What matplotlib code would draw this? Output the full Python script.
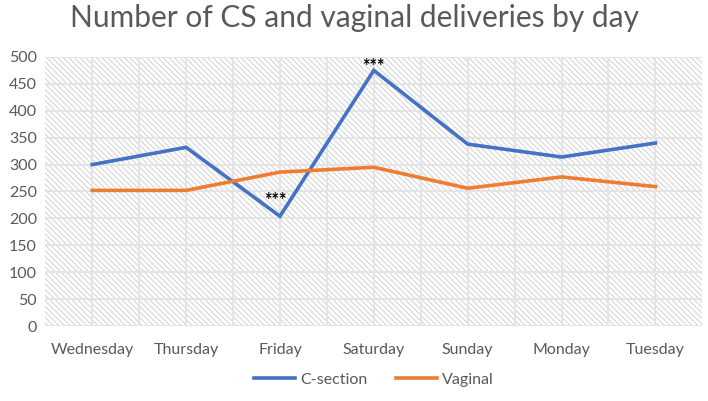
"""Number of CS and vaginal deliveries by day of week."""

import matplotlib

matplotlib.use("Agg")
import matplotlib.pyplot as plt
from matplotlib.patches import Rectangle

days = ["Wednesday", "Thursday", "Friday", "Saturday", "Sunday", "Monday", "Tuesday"]
c_section = [300, 332, 204, 475, 338, 314, 340]
vaginal = [252, 252, 286, 295, 256, 277, 259]

TEXT = "#595959"
GRID = "#e3e3e3"

plt.rcParams["font.family"] = ["Lato", "DejaVu Sans"]
plt.rcParams["hatch.linewidth"] = 0.8
plt.rcParams["hatch.color"] = "#d6d6d6"

fig = plt.figure(figsize=(7.08, 4.01), dpi=100)
ax = fig.add_axes([0.064, 0.187, 0.928, 0.671])

x = list(range(len(days)))
ax.add_patch(Rectangle((0, 0), 1, 1, transform=ax.transAxes, facecolor="white",
                       edgecolor="#d6d6d6", hatch="\\" * 6, linewidth=0, zorder=0))

ax.plot(x, c_section, color="#4472c4", linewidth=2.6, label="C-section", zorder=3, solid_joinstyle="miter")
ax.plot(x, vaginal, color="#ed7d31", linewidth=2.6, label="Vaginal", zorder=3, solid_joinstyle="miter")

# significance markers
fri = days.index("Friday")
sat = days.index("Saturday")
ax.text(fri - 0.05, c_section[fri] + 14, "***", ha="center", va="bottom", fontsize=13,
        fontweight="bold", color="black", zorder=4)
ax.text(sat, c_section[sat] - 9, "***", ha="center", va="bottom", fontsize=13,
        fontweight="bold", color="black", zorder=4)

ax.set_xlim(-0.5, len(days) - 0.5)
ax.set_ylim(0, 500)
ax.set_yticks(range(0, 501, 50))
ax.set_xticks(x)
ax.set_xticklabels(days)
ax.set_xticks([i + 0.5 for i in x[:-1]], minor=True)
ax.grid(True, which="both", color=GRID, linewidth=1.3, zorder=1)
ax.set_axisbelow(True)
ax.tick_params(axis="both", which="both", length=0, colors=TEXT, labelsize=11.5)
ax.tick_params(axis="x", pad=12)
ax.tick_params(axis="y", pad=6)
for side in ax.spines.values():
    side.set_visible(False)

fig.suptitle("Number of CS and vaginal deliveries by day", fontsize=21.5, color=TEXT, y=0.99)

ax.legend(loc="upper center", bbox_to_anchor=(0.5, -0.12), ncol=2, frameon=False,
          fontsize=11.5, labelcolor=TEXT, handlelength=2.6, handletextpad=0.3, columnspacing=1.8)

fig.savefig("out.png", dpi=100)
